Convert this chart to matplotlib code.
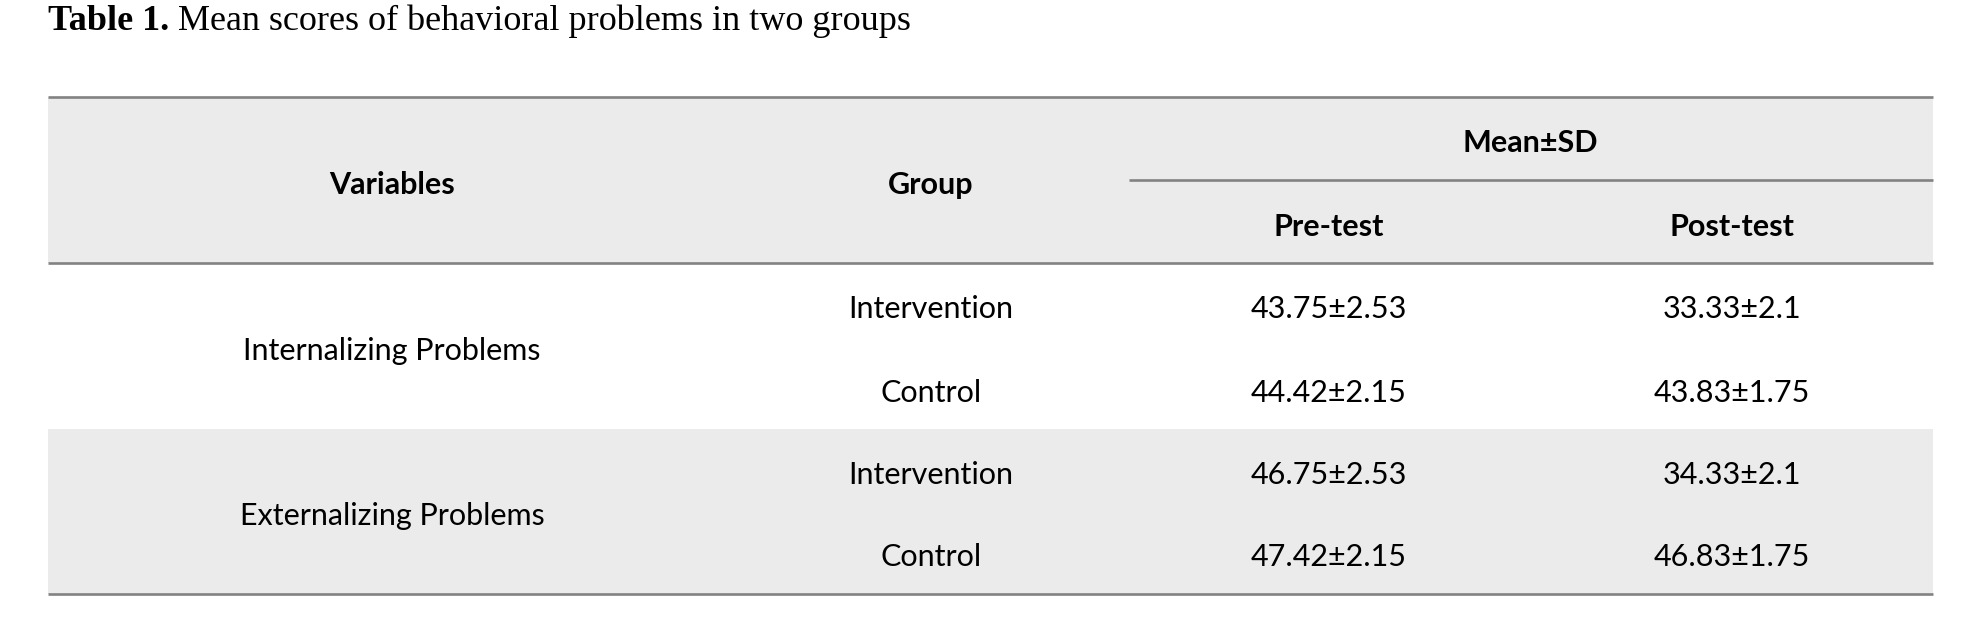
import matplotlib.pyplot as plt

# table content
title_bold = "Table 1."
title_rest = " Mean scores of behavioral problems in two groups"
variables = ["Internalizing Problems", "Externalizing Problems"]
groups = ["Intervention", "Control"]
pre_test = [["43.75±2.53", "44.42±2.15"], ["46.75±2.53", "47.42±2.15"]]
post_test = [["33.33±2.1", "43.83±1.75"], ["34.33±2.1", "46.83±1.75"]]
header_cols = ["Variables", "Group"]
sub_cols = ["Pre-test", "Post-test"]
span_head = "Mean±SD"

W, H = 1964, 617
fig = plt.figure(figsize=(W / 100, H / 100), dpi=100)
ax = fig.add_axes([0, 0, 1, 1])
ax.set_xlim(0, W)
ax.set_ylim(H, 0)
ax.axis("off")

sans = ["Lato", "DejaVu Sans"]
fs = 22
line_col = "#828282"
band_col = "#ebebeb"
left, right = 48, 1933
lw = 1.9
dy = 3  # small nudge so text sits like the original

# x centres of the columns
x_var, x_grp, x_pre, x_post = 392, 931, 1329, 1732
x_span0 = 1129

# title
t = ax.text(left, 21, title_bold, fontsize=26, family="Liberation Serif",
            fontweight="bold", va="center", ha="left")
fig.canvas.draw()
bb = t.get_window_extent()
ax.text(left + bb.width, 21, title_rest, fontsize=26, family="Liberation Serif",
        va="center", ha="left")

# header
top, head_bot = 97, 263
ax.fill_between([left, right], top, head_bot, color=band_col, lw=0)
ax.hlines([top, head_bot], left, right, color=line_col, lw=lw)
ax.hlines(180, x_span0, right, color=line_col, lw=lw)
ax.text(x_var, 182 + dy, header_cols[0], fontsize=fs, family=sans, fontweight="bold",
        ha="center", va="center")
ax.text(x_grp, 182 + dy, header_cols[1], fontsize=fs, family=sans, fontweight="bold",
        ha="center", va="center")
ax.text(1530, 140 + dy, span_head, fontsize=fs, family=sans, fontweight="bold",
        ha="center", va="center")
ax.text(x_pre, 224 + dy, sub_cols[0], fontsize=fs, family=sans, fontweight="bold",
        ha="center", va="center")
ax.text(x_post, 224 + dy, sub_cols[1], fontsize=fs, family=sans, fontweight="bold",
        ha="center", va="center")

# body
block_top = [263, 429]
block_h = [166, 165]
row_y = [[306, 390], [472, 554]]
ax.fill_between([left, right], block_top[1], block_top[1] + block_h[1],
                color=band_col, lw=0)
ax.hlines(594, left, right, color=line_col, lw=lw)

for i, var in enumerate(variables):
    ax.text(x_var, (row_y[i][0] + row_y[i][1]) / 2 + dy, var, fontsize=fs,
            family=sans, ha="center", va="center")
    for j, g in enumerate(groups):
        y = row_y[i][j] + dy
        ax.text(x_grp, y, g, fontsize=fs, family=sans, ha="center", va="center")
        ax.text(x_pre, y, pre_test[i][j], fontsize=fs, family=sans,
                ha="center", va="center")
        ax.text(x_post, y, post_test[i][j], fontsize=fs, family=sans,
                ha="center", va="center")

fig.savefig("out.png", dpi=100, facecolor="white")
